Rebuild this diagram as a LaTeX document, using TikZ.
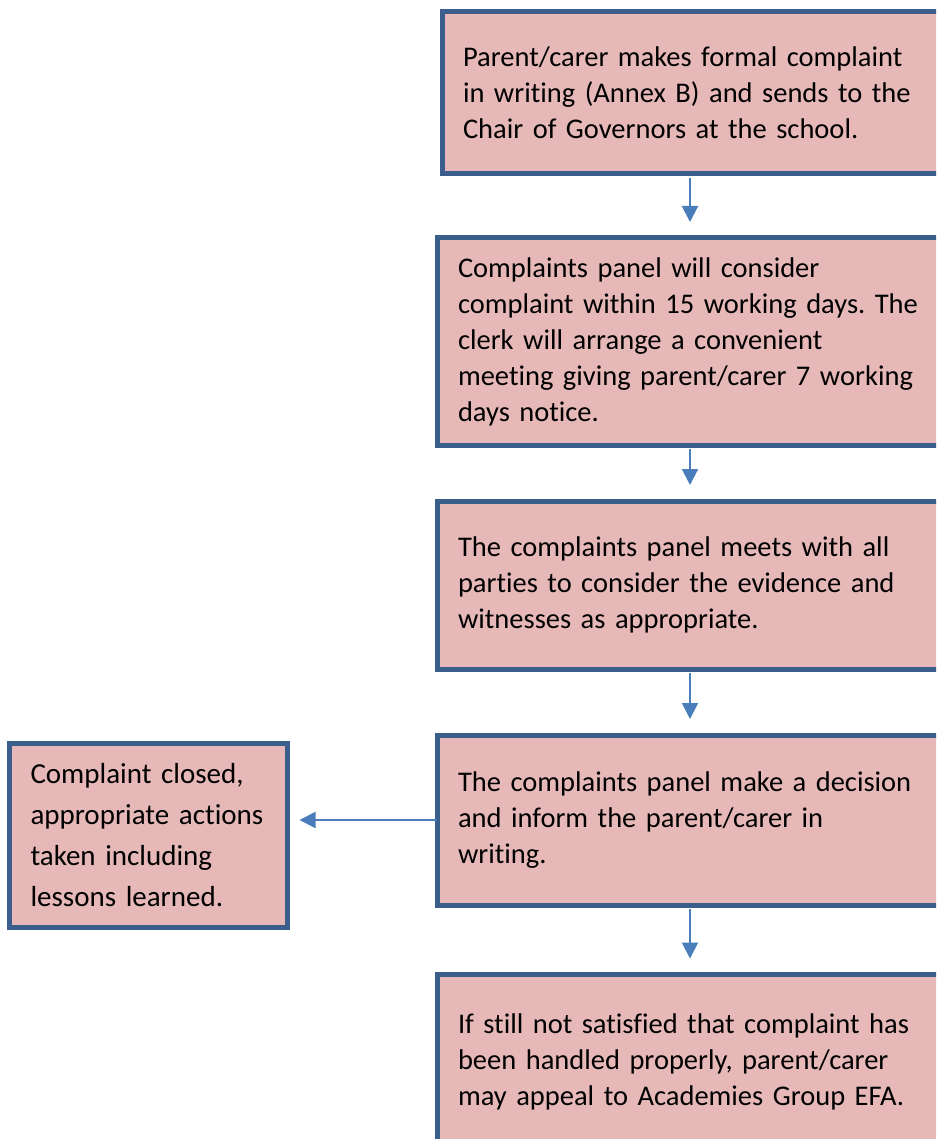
\documentclass[tikz,border=0pt]{standalone}
\usepackage{fontspec}
\setmainfont{Carlito}[Ligatures=NoCommon]
\usepackage{xcolor}
\usetikzlibrary{arrows.meta}
\definecolor{stagefill}{HTML}{E6B9B8}
\definecolor{stageline}{HTML}{3B5E8C}
\definecolor{flowline}{HTML}{4A7EBB}
\frenchspacing
\tikzset{stage/.style={
        draw=stageline, fill=stagefill, line width=5pt,
        rectangle, outer sep=0pt, inner xsep=21pt,
        text width=478pt, minimum width=520pt, align=left,
        font=\fontsize{28.5pt}{36pt}\selectfont
    },
    flow/.style={
        draw=flowline, line width=2pt,
        -{Triangle[width=16pt,length=16pt]},
        shorten <=4pt, shorten >=16pt
    }
}

\begin{document}
\begin{tikzpicture}[x=1pt,y=1pt]
      \useasboundingbox (0,0) rectangle (936,-1139);
      \clip (0,0) rectangle (936,-1139);
      \coordinate (ax) at (690,0);
      \node[stage,minimum height=162pt] (formal) at (702,-93)
        {Parent/carer makes formal complaint\\in writing (Annex B) and sends to the\\Chair of Governors at the school.};
      \node[stage,minimum height=207pt] (panel) at (697,-341.5)
        {Complaints panel will consider\\complaint within 15 working days. The\\clerk will arrange a convenient\\meeting giving parent/carer 7 working\\days notice.};
      \node[stage,minimum height=168pt] (meets) at (697,-585)
        {The complaints panel meets with all\\parties to consider the evidence and\\witnesses as appropriate.};
      \node[stage,minimum height=170pt] (decide) at (697,-820)
        {The complaints panel make a decision\\and inform the parent/carer in\\writing.};
      \node[stage,minimum height=175pt] (appeal) at (697,-1062)
        {If still not satisfied that complaint has\\been handled properly, parent/carer\\may appeal to Academies Group EFA.};
      \node[stage,text width=236pt,minimum width=278pt,minimum height=184pt,
        font=\fontsize{29pt}{41pt}\selectfont] (closed) at (148.5,-835)
        {Complaint closed,\\appropriate actions\\taken including\\lessons learned.};
      \draw[flow] (formal.south -| ax) -- (panel.north -| ax);
      \draw[flow] (panel.south -| ax) -- (meets.north -| ax);
      \draw[flow] (meets.south -| ax) -- (decide.north -| ax);
      \draw[flow] (decide.south -| ax) -- (appeal.north -| ax);
      \draw[flow,shorten <=0pt,shorten >=12pt] (decide.west) -- (decide.west -| closed.east);
    \end{tikzpicture}
\end{document}
